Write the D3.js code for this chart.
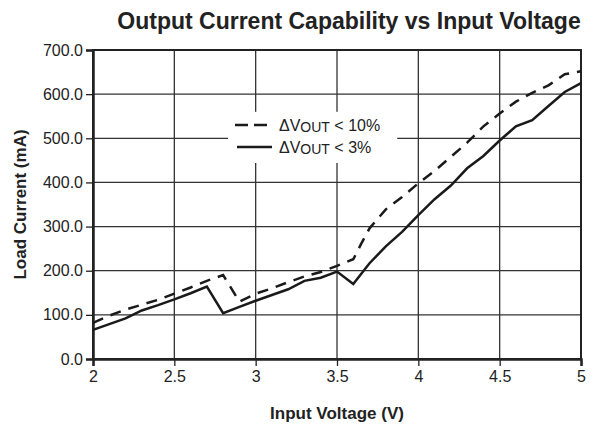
<!DOCTYPE html>
<html>
<head>
<meta charset="utf-8">
<script src="https://cdn.jsdelivr.net/npm/d3@7"></script>
<style>
  body { margin: 0; background: #fff; }
  svg { display: block; font-family: 'Liberation Sans', Arial, sans-serif; }
  .tick text { font-size: 16px; fill: #222; }
</style>
</head>
<body>
<div id="chart"></div>
<script>
// input voltage (V) samples for each curve
const voltsDv10 = [2.0, 2.1, 2.2, 2.3, 2.4, 2.5, 2.6, 2.7, 2.8, 2.9, 3.0, 3.1, 3.2, 3.3, 3.4, 3.5,
                   3.6, 3.65, 3.7, 3.8, 3.9, 4.0, 4.1, 4.2, 4.3, 4.4, 4.5, 4.6, 4.7, 4.8, 4.9, 5.0];
const currentDv10 = [82, 98, 112, 123, 134, 148, 162, 177, 190, 130, 148, 160, 174, 187, 197, 211,
                     226, 262, 296, 339, 367, 398, 426, 458, 490, 527, 556, 583, 603, 620, 645, 652];

const voltsDv3 = [2.0, 2.1, 2.2, 2.3, 2.4, 2.5, 2.6, 2.7, 2.8, 2.9, 3.0, 3.1, 3.2, 3.3, 3.4, 3.5,
                  3.6, 3.7, 3.8, 3.9, 4.0, 4.1, 4.2, 4.3, 4.4, 4.5, 4.6, 4.7, 4.8, 4.9, 5.0];
const currentDv3 = [66, 79, 92, 110, 122, 135, 149, 164, 104, 118, 132, 145, 158, 177, 184, 198,
                    170, 217, 255, 288, 326, 362, 393, 432, 460, 495, 527, 541, 573, 605, 625];

const xTicks = [2, 2.5, 3, 3.5, 4, 4.5, 5];
const yTicks = [0, 100, 200, 300, 400, 500, 600, 700];
const seriesNames = ['< 10%', '< 3%'];

document.addEventListener('DOMContentLoaded', () => {
  const svgWidth = 595,
        svgHeight = 428;

  const margin = { top: 50, right: 14, bottom: 69, left: 93 };

  const width = svgWidth - margin.left - margin.right,
        height = svgHeight - margin.top - margin.bottom;

  const svg = d3.select('#chart')
                .append('svg')
                .attr('width', svgWidth)
                .attr('height', svgHeight);

  const g = svg.append('g')
               .attr('transform', `translate(${margin.left},${margin.top})`);

  const x = d3.scaleLinear().domain([2, 5]).range([0, width]);
  const y = d3.scaleLinear().domain([0, 700]).range([height, 0]);

  // grid
  g.append('g')
    .selectAll('line')
    .data(xTicks)
    .enter()
    .append('line')
    .attr('x1', d => x(d)).attr('x2', d => x(d))
    .attr('y1', 0).attr('y2', height)
    .attr('stroke', '#333').attr('stroke-width', 1.3);

  g.append('g')
    .selectAll('line')
    .data(yTicks)
    .enter()
    .append('line')
    .attr('x1', 0).attr('x2', width)
    .attr('y1', d => y(d)).attr('y2', d => y(d))
    .attr('stroke', '#333').attr('stroke-width', 1.3);

  // legend background hides the grid behind it
  g.append('rect')
    .attr('x', x(2.83)).attr('y', y(560))
    .attr('width', x(3.87) - x(2.83)).attr('height', y(444) - y(560))
    .attr('fill', '#fff');

  // frame
  g.append('rect')
    .attr('width', width).attr('height', height)
    .attr('fill', 'none').attr('stroke', '#222').attr('stroke-width', 2);

  // axes
  const xAxis = d3.axisBottom(x)
                  .tickValues(xTicks)
                  .tickFormat(d3.format('~g'))
                  .tickSize(7)
                  .tickPadding(5);
  const yAxis = d3.axisLeft(y)
                  .tickValues(yTicks)
                  .tickFormat(d3.format('.1f'))
                  .tickSize(7)
                  .tickPadding(3);

  g.append('g')
    .attr('transform', `translate(0,${height})`)
    .call(xAxis)
    .call(a => a.select('.domain').attr('stroke-width', 2.5).attr('stroke', '#222'))
    .call(a => a.selectAll('.tick line').attr('stroke', '#222').attr('stroke-width', 1.3));

  g.append('g')
    .call(yAxis)
    .call(a => a.select('.domain').attr('stroke-width', 2.5).attr('stroke', '#222'))
    .call(a => a.selectAll('.tick line').attr('stroke', '#222').attr('stroke-width', 1.3));

  // curves
  const line = d3.line().x(d => x(d[0])).y(d => y(d[1]));

  g.append('path')
    .datum(voltsDv10.map((v, i) => [v, currentDv10[i]]))
    .attr('d', line)
    .attr('fill', 'none')
    .attr('stroke', '#1a1a1a')
    .attr('stroke-width', 2.5)
    .attr('stroke-dasharray', '11,8');

  g.append('path')
    .datum(voltsDv3.map((v, i) => [v, currentDv3[i]]))
    .attr('d', line)
    .attr('fill', 'none')
    .attr('stroke', '#1a1a1a')
    .attr('stroke-width', 2.5);

  // legend
  const legend = svg.append('g').attr('transform', 'translate(235,125)');
  const rows = legend.selectAll('g')
                     .data(seriesNames)
                     .enter()
                     .append('g')
                     .attr('transform', (d, i) => `translate(0,${i * 22})`);

  rows.append('line')
      .attr('x1', (d, i) => i === 0 ? 0 : 2).attr('x2', 37)
      .attr('stroke', '#1a1a1a').attr('stroke-width', 2.6)
      .attr('stroke-dasharray', (d, i) => i === 0 ? '13,6' : null);

  const txt = rows.append('text')
                  .attr('x', 44).attr('y', 6)
                  .attr('font-size', 16).attr('fill', '#222');
  txt.append('tspan').text('\u0394V');
  txt.append('tspan').attr('font-size', 14).attr('dy', 1).text('OUT');
  txt.append('tspan').attr('dy', -1).text(d => ' ' + d);

  // titles
  svg.append('text')
     .attr('x', 349).attr('y', 29)
     .attr('text-anchor', 'middle')
     .attr('font-size', 23).attr('font-weight', 'bold').attr('fill', '#222')
     .text('Output Current Capability vs Input Voltage');

  svg.append('text')
     .attr('x', margin.left + width / 2).attr('y', 419)
     .attr('text-anchor', 'middle')
     .attr('font-size', 17).attr('font-weight', 'bold').attr('fill', '#222')
     .text('Input Voltage (V)');

  svg.append('text')
     .attr('transform', `translate(26,${margin.top + height / 2}) rotate(-90)`)
     .attr('text-anchor', 'middle')
     .attr('font-size', 17).attr('font-weight', 'bold').attr('fill', '#222')
     .text('Load Current (mA)');
});
</script>
</body>
</html>
